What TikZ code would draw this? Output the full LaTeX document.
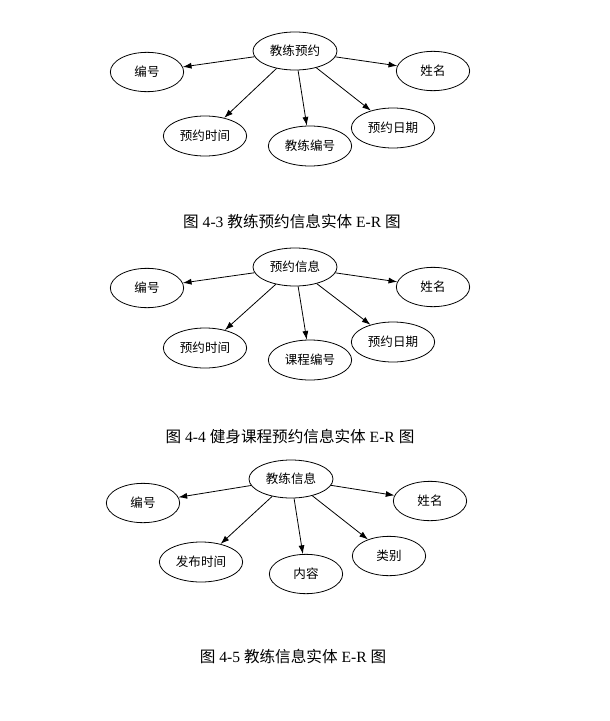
\documentclass[tikz,border=0pt]{standalone}
\usepackage{fontspec}
\setmainfont{Liberation Serif}
\newfontfamily\cjk{Noto Sans CJK SC}
\usetikzlibrary{shapes.geometric,arrows.meta}

\begin{document}
\begin{tikzpicture}[x=0.75pt, y=-0.75pt, line width=0.6pt, >={Latex[length=6.5pt,width=4.5pt]},
	every node/.style={font=\cjk\fontsize{9.4}{11}\selectfont},
	ent/.style={shape=ellipse, draw=black, inner sep=0pt, minimum width=63pt, minimum height=28.5pt},
	attr/.style={shape=ellipse, draw=black, inner sep=0pt, minimum width=55pt, minimum height=29.5pt},
	longattr/.style={attr, minimum width=62.5pt, minimum height=30pt},
	figcap/.style={font=\fontsize{11.7}{13}\selectfont}]
	\useasboundingbox (0,0) rectangle (610,721);
	% 图 4-3
	\node [ent] (0) at (295, 51) {教练预约};
	\node [attr] (1) at (147, 72) {编号};
	\node [attr] (2) at (433, 71) {姓名};
	\node [longattr] (3) at (205, 136) {预约时间};
	\node [longattr] (4) at (310, 146) {教练编号};
	\node [longattr] (5) at (393, 128) {预约日期};
	\draw [->] (0) to (1);
	\draw [->] (0) to (2);
	\draw [->] (0) to (3);
	\draw [->] (0) to (4);
	\draw [->] (0) to (5);
	\node [figcap] (c1) at (292, 222) {{\cjk 图} 4-3 {\cjk 教练预约信息实体} E-R {\cjk 图}};
	% 图 4-4
	\node [ent] (6) at (295, 267) {预约信息};
	\node [attr] (7) at (147, 288) {编号};
	\node [attr] (8) at (433, 287) {姓名};
	\node [longattr] (9) at (205, 348) {预约时间};
	\node [longattr] (10) at (310, 360) {课程编号};
	\node [longattr] (11) at (393, 342) {预约日期};
	\draw [->] (6) to (7);
	\draw [->] (6) to (8);
	\draw [->] (6) to (9);
	\draw [->] (6) to (10);
	\draw [->] (6) to (11);
	\node [figcap] (c2) at (290, 437) {{\cjk 图} 4-4 {\cjk 健身课程预约信息实体} E-R {\cjk 图}};
	% 图 4-5
	\node [ent] (12) at (291, 479) {教练信息};
	\node [attr] (13) at (143, 503) {编号};
	\node [attr] (14) at (430, 501) {姓名};
	\node [longattr] (15) at (201, 562) {发布时间};
	\node [attr] (16) at (306, 574) {内容};
	\node [attr] (17) at (389, 556) {类别};
	\draw [->] (12) to (13);
	\draw [->] (12) to (14);
	\draw [->] (12) to (15);
	\draw [->] (12) to (16);
	\draw [->] (12) to (17);
	\node [figcap] (c3) at (293, 657) {{\cjk 图}\ 4-5 {\cjk 教练信息实体} E-R {\cjk 图}};
\end{tikzpicture}
\end{document}
